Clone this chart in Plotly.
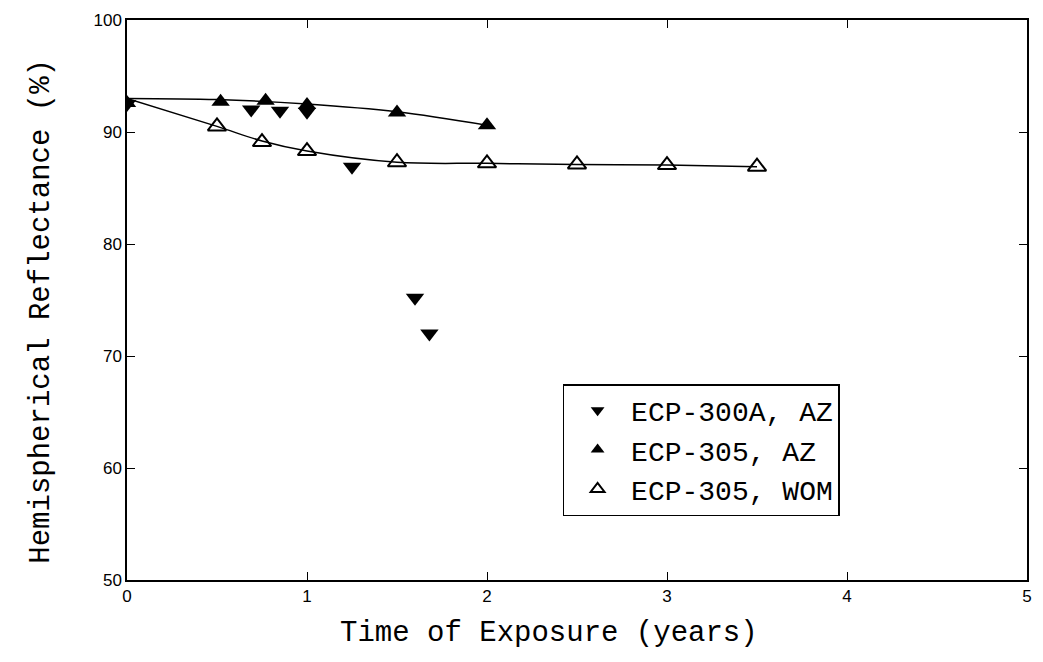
import plotly.graph_objects as go

# ECP-300A, AZ (filled down triangles, no line)
x_300a = [0.0, 0.69, 0.85, 1.0, 1.25, 1.6, 1.68]
y_300a = [92.5, 92.0, 91.9, 91.8, 86.9, 75.2, 72.0]

# ECP-305, AZ (filled up triangles)
x_305az = [0.0, 0.52, 0.77, 1.0, 1.5, 2.0]
y_305az = [92.6, 92.7, 92.8, 92.4, 91.75, 90.6]

# ECP-305, WOM (open up triangles)
x_wom = [0.5, 0.75, 1.0, 1.5, 2.0, 2.5, 3.0, 3.5]
y_wom = [90.5, 89.1, 88.3, 87.3, 87.2, 87.1, 87.05, 86.9]

# smooth guide curves drawn through the ECP-305 data
x_fit_az = [0.0, 0.5, 1.0, 1.5, 2.0]
y_fit_az = [93.0, 92.9, 92.5, 91.8, 90.6]
x_fit_wom = [0.0, 0.5, 0.75, 1.0, 1.5, 2.0, 2.5, 3.0, 3.5]
y_fit_wom = [93.0, 90.5, 89.2, 88.3, 87.3, 87.2, 87.1, 87.05, 86.9]

x_title = "Time of Exposure (years)"
y_title = "Hemispherical Reflectance (%)"

fig = go.Figure()

fig.add_trace(go.Scatter(x=x_fit_az, y=y_fit_az, mode="lines", line=dict(color="black", width=1.5, shape="spline"),
                         showlegend=False, hoverinfo="skip"))
fig.add_trace(go.Scatter(x=x_fit_wom, y=y_fit_wom, mode="lines", line=dict(color="black", width=1.5, shape="spline"),
                         showlegend=False, hoverinfo="skip"))

fig.add_trace(go.Scatter(x=x_300a, y=y_300a, mode="markers", name="ECP-300A, AZ",
                         marker=dict(symbol="triangle-down", size=16, color="black")))
fig.add_trace(go.Scatter(x=x_305az, y=y_305az, mode="markers", name="ECP-305, AZ",
                         marker=dict(symbol="triangle-up", size=16, color="black")))
fig.add_trace(go.Scatter(x=x_wom, y=y_wom, mode="markers", name="ECP-305, WOM",
                         marker=dict(symbol="triangle-up-open", size=16, color="black", line=dict(width=2))))

mono = "Liberation Mono, Courier New, monospace"

fig.update_layout(
    width=1043, height=662,
    paper_bgcolor="white", plot_bgcolor="white",
    margin=dict(l=127, r=11, t=18, b=82),
    xaxis=dict(range=[0, 5], tickvals=[0, 1, 2, 3, 4, 5], ticks="inside", ticklen=8, tickcolor="black",
               showline=True, linecolor="black", linewidth=1.5, mirror="ticks", showgrid=False, zeroline=False,
               tickfont=dict(family="Liberation Sans, Arial", size=17, color="black")),
    yaxis=dict(range=[50, 100], tickvals=[50, 60, 70, 80, 90, 100], ticks="inside", ticklen=8, tickcolor="black",
               showline=True, linecolor="black", linewidth=1.5, mirror="ticks", showgrid=False, zeroline=False,
               tickfont=dict(family="Liberation Sans, Arial", size=17, color="black")),
    legend=dict(x=0.484, y=0.35, xanchor="left", yanchor="top", bgcolor="white", bordercolor="black", borderwidth=1.5,
                font=dict(family=mono, size=28, color="black"), itemsizing="constant", itemwidth=57, tracegroupgap=2),
    showlegend=True,
    annotations=[
        dict(text=x_title, xref="paper", yref="paper", x=0.469, y=-0.062, xanchor="center", yanchor="top",
             showarrow=False, font=dict(family=mono, size=29, color="black")),
        dict(text=y_title, xref="paper", yref="paper", x=-0.095, y=0.48, xanchor="center", yanchor="middle",
             textangle=-90, showarrow=False, font=dict(family=mono, size=29, color="black")),
    ],
)

fig.write_html("out.html")
